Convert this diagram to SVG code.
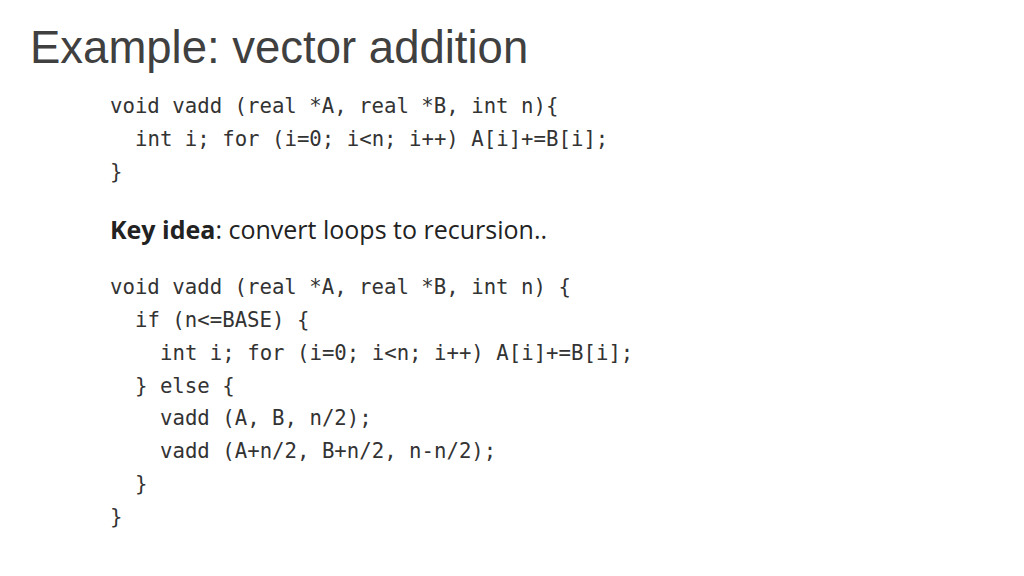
<svg xmlns="http://www.w3.org/2000/svg" width="1024" height="576" viewBox="0 0 1024 576">
<style>
.t{font-family:"Liberation Sans",Arial,sans-serif;font-size:45.5px;fill:#404040}
.c{font-family:"DejaVu Sans Mono","Liberation Mono",monospace;font-size:20.7px;fill:#333}
.k{font-family:"Open Sans","Liberation Sans",sans-serif;font-size:25px;fill:#222}
</style>
<rect width="1024" height="576" fill="#fff"/>
<text class="t" x="30" y="63">Example: vector addition</text>
<g id="code1">
<text class="c" x="110" y="113">void vadd (real *A, real *B, int n){</text>
<text class="c" x="135" y="146">int i; for (i=0; i&lt;n; i++) A[i]+=B[i];</text>
<text class="c" x="110" y="179">}</text>
</g>
<text class="k" x="110" y="239"><tspan font-weight="bold">Key idea</tspan>: convert loops to recursion..</text>
<g id="code2">
<text class="c" x="110" y="294">void vadd (real *A, real *B, int n) {</text>
<text class="c" x="135" y="327">if (n&lt;=BASE) {</text>
<text class="c" x="160" y="360">int i; for (i=0; i&lt;n; i++) A[i]+=B[i];</text>
<text class="c" x="135" y="393">} else {</text>
<text class="c" x="160" y="425">vadd (A, B, n/2);</text>
<text class="c" x="160" y="458">vadd (A+n/2, B+n/2, n-n/2);</text>
<text class="c" x="135" y="491">}</text>
<text class="c" x="110" y="524">}</text>
</g>
</svg>
